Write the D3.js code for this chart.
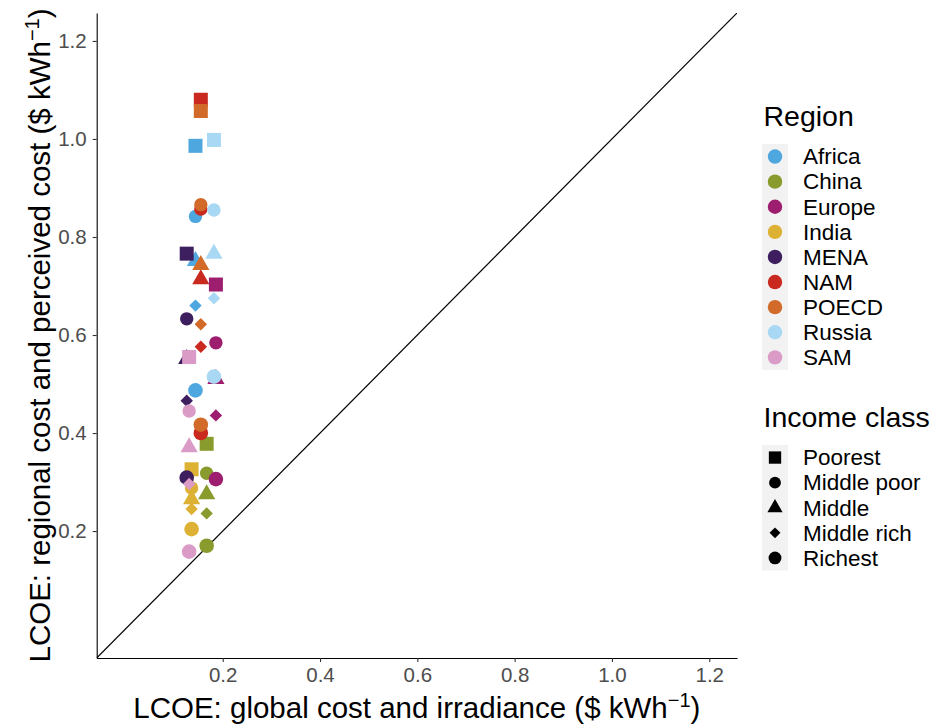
<!DOCTYPE html>
<html>
<head>
<meta charset="utf-8">
<script src="https://cdn.jsdelivr.net/npm/d3@7"></script>
<style>
  html, body { margin: 0; padding: 0; background: #fff; }
  svg { display: block; font-family: "Liberation Sans", Arial, Helvetica, sans-serif; }
</style>
</head>
<body>
<svg id="chart" width="933" height="724"></svg>
<script>
// Regions and their colours
const regions = ["Africa", "China", "Europe", "India", "MENA", "NAM", "POECD", "Russia", "SAM"];
const regionColors = ["#4EA7DE", "#8A9B2E", "#9D1D6F", "#DDB134", "#3D1E5F", "#C9291F", "#D26B29", "#A8D8F3", "#DA9BC7"];

// Income classes (legend order) and the shape used for each
const incomeClasses = ["Poorest", "Middle poor", "Middle", "Middle rich", "Richest"];
const incomeShapes = ["square", "circle", "triangle", "diamond", "bigcircle"];

// LCOE using global cost and irradiance, one value per region ($/kWh)
const globalLcoe = [0.144, 0.167, 0.186, 0.136, 0.126, 0.155, 0.155, 0.182, 0.131];

// LCOE using regional cost and perceived cost, per income class, in region order ($/kWh)
const poorest    = [0.986, 0.378, 0.703, 0.326, 0.766, 1.080, 1.057, 0.998, 0.555];
const middlePoor = [0.842, 0.318, 0.584, 0.288, 0.633, 0.857, 0.866, 0.855, 0.445];
const middle     = [0.751, 0.275, 0.510, 0.265, 0.551, 0.714, 0.743, 0.766, 0.371];
const middleRich = [0.660, 0.236, 0.436, 0.245, 0.466, 0.576, 0.622, 0.675, 0.296];
const richest    = [0.487, 0.170, 0.306, 0.204, 0.309, 0.400, 0.417, 0.515, 0.158];

// Axis ticks
const xTicks = [0.2, 0.4, 0.6, 0.8, 1.0, 1.2];
const yTicks = [0.2, 0.4, 0.6, 0.8, 1.0, 1.2];

const byIncome = [poorest, middlePoor, middle, middleRich, richest];
const points = [];
regions.forEach((r, ri) => {
  incomeClasses.forEach((c, ci) => {
    points.push({ region: r, income: c, gx: globalLcoe[ri], ry: byIncome[ci][ri] });
  });
});

const svg = d3.select("#chart");
const panel = { left: 96.7, right: 737, top: 13, bottom: 658 };
const domain = [-0.059, 1.257];
const x = d3.scaleLinear().domain(domain).range([panel.left, panel.right]);
const y = d3.scaleLinear().domain(domain).range([panel.bottom, panel.top]);
const color = d3.scaleOrdinal().domain(regions).range(regionColors);
const shape = d3.scaleOrdinal().domain(incomeClasses).range(incomeShapes);

// Shape paths centred on (0,0)
function shapePath(kind, k = 1) {
  if (kind === "square") { const h = 7 * k; return `M${-h},${-h}H${h}V${h}H${-h}Z`; }
  if (kind === "circle") { const r = 6.7 * k; return `M${r},0A${r},${r} 0 1,1 ${-r},0A${r},${r} 0 1,1 ${r},0Z`; }
  if (kind === "bigcircle") { const r = 7.3 * k; return `M${r},0A${r},${r} 0 1,1 ${-r},0A${r},${r} 0 1,1 ${r},0Z`; }
  if (kind === "triangle") { const w = 8.6 * k, t = 10 * k, b = 5 * k; return `M0,${-t}L${w},${b}L${-w},${b}Z`; }
  if (kind === "diamond") { const d = 6.2 * k; return `M0,${-d}L${d},0L0,${d}L${-d},0Z`; }
}

svg.append("rect").attr("width", 933).attr("height", 724).attr("fill", "#fff");

// Clip to panel
svg.append("defs").append("clipPath").attr("id", "panelClip")
  .append("rect").attr("x", panel.left).attr("y", panel.top)
  .attr("width", panel.right - panel.left).attr("height", panel.bottom - panel.top);

// 1:1 reference line
svg.append("line")
  .attr("clip-path", "url(#panelClip)")
  .attr("x1", x(domain[0])).attr("y1", y(domain[0]))
  .attr("x2", x(domain[1])).attr("y2", y(domain[1]))
  .attr("stroke", "#000").attr("stroke-width", 1.2);

// Points
svg.append("g").selectAll("path").data(points).join("path")
  .attr("transform", d => `translate(${x(d.gx)},${y(d.ry)})`)
  .attr("d", d => shapePath(shape(d.income)))
  .attr("fill", d => color(d.region));

// Axes
const xAxis = svg.append("g").attr("transform", `translate(0,${panel.bottom})`)
  .call(d3.axisBottom(x).tickValues(xTicks).tickSize(4).tickSizeOuter(0).tickPadding(5).tickFormat(d3.format(".1f")));
const yAxis = svg.append("g").attr("transform", `translate(${panel.left},0)`)
  .call(d3.axisLeft(y).tickValues(yTicks).tickSize(4).tickSizeOuter(0).tickPadding(6).tickFormat(d3.format(".1f")));
[xAxis, yAxis].forEach(g => {
  g.select(".domain").attr("stroke", "#000").attr("stroke-width", 1.1);
  g.selectAll(".tick line").attr("stroke", "#333").attr("stroke-width", 1.1);
  g.selectAll(".tick text").attr("fill", "#4D4D4D").style("font-size", "20.5px")
    .style("font-family", "'Liberation Sans', Arial, sans-serif");
});

// Axis titles
function axisTitle(g, label) {
  g.append("tspan").text(label + " ($ kWh");
  g.append("tspan").text("\u22121").attr("dy", -11).style("font-size", "20px");
  g.append("tspan").text(")").attr("dy", 11);
}
const xt = svg.append("text").attr("x", (panel.left + panel.right) / 2).attr("y", 718)
  .attr("text-anchor", "middle").style("font-size", "29.5px").attr("fill", "#000");
axisTitle(xt, "LCOE: global cost and irradiance");
const yt = svg.append("text")
  .attr("transform", `translate(50,${(panel.top + panel.bottom) / 2}) rotate(-90)`)
  .attr("text-anchor", "middle").style("font-size", "29.5px").attr("fill", "#000");
axisTitle(yt, "LCOE: regional cost and perceived cost");

// Legends
const legX = 763.5, keyW = 26, keyH = 25.1;

const lr = svg.append("g");
lr.append("text").attr("x", legX).attr("y", 126).text("Region").style("font-size", "28.5px");
lr.append("rect").attr("x", legX - 1.5).attr("y", 144).attr("width", keyW).attr("height", keyH * regions.length)
  .attr("fill", "#F2F2F2");
regions.forEach((r, i) => {
  const cy = 144 + keyH * (i + 0.5);
  lr.append("circle").attr("cx", legX - 1.5 + keyW / 2).attr("cy", cy).attr("r", 7.2).attr("fill", color(r));
  lr.append("text").attr("x", 803).attr("y", cy + 7.8).text(r).style("font-size", "22.5px");
});

const li = svg.append("g");
li.append("text").attr("x", legX).attr("y", 427).text("Income class").style("font-size", "28.5px");
li.append("rect").attr("x", legX - 1.5).attr("y", 445).attr("width", keyW).attr("height", keyH * incomeClasses.length)
  .attr("fill", "#F2F2F2");
incomeClasses.forEach((c, i) => {
  const cy = 445 + keyH * (i + 0.5);
  li.append("path").attr("transform", `translate(${legX - 1.5 + keyW / 2},${cy})`)
    .attr("d", shapePath(shape(c), 0.88)).attr("fill", "#000");
  li.append("text").attr("x", 803).attr("y", cy + 7.8).text(c).style("font-size", "22.5px");
});
</script>
</body>
</html>
